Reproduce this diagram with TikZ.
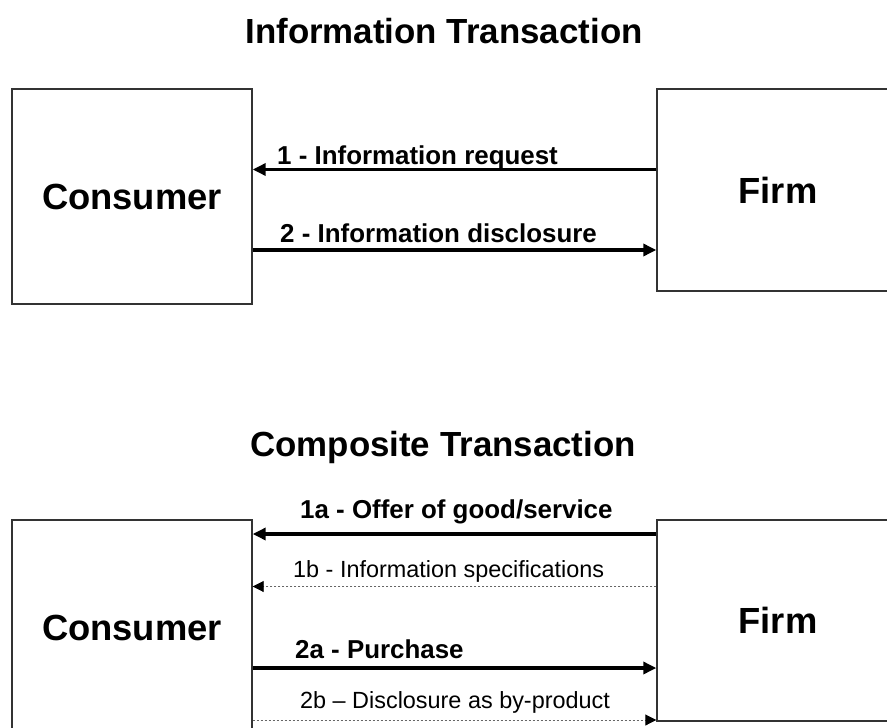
\documentclass[tikz,border=0pt]{standalone}
\usepackage{fontspec}
\setmainfont{Liberation Sans}
\usetikzlibrary{arrows.meta}
\begin{document}
\begin{tikzpicture}[x=1bp,y=-1bp,
  box/.style={draw=black!80,line width=1.4bp,rectangle,inner sep=0pt,
    font=\fontsize{36.5}{40}\selectfont\bfseries},
  ttl/.style={inner sep=0pt,anchor=base,font=\fontsize{35}{40}\selectfont\bfseries},
  blbl/.style={inner sep=0pt,anchor=base west,font=\fontsize{26}{30}\selectfont\bfseries},
  rlbl/.style={inner sep=0pt,anchor=base west,font=\fontsize{23.5}{28}\selectfont},
  sarrow/.style={line width=3.4bp,-{Triangle[length=13bp,width=12bp]}},
  darrow/.style={draw=black!60,line width=0.9bp,dash pattern=on 2.5bp off 1.5bp,
    -{Triangle[length=11bp,width=11bp,fill=black,color=black]}}]
\useasboundingbox (0,0) rectangle (887,728);
% titles
\node[ttl] (t1) at (444,44) {Information Transaction};
\node[ttl] (t2) at (443,456) {Composite Transaction};
% top boxes
\node[box,minimum width=240bp,minimum height=215bp] (c1) at (132,196.5) {Consumer};
\node[box,minimum width=242bp,minimum height=202bp] (f1) at (778,190) {Firm};
% bottom boxes
\node[box,minimum width=240bp,minimum height=216bp] (c2) at (132,628) {Consumer};
\node[box,minimum width=242bp,minimum height=201bp] (f2) at (778,620.5) {Firm};
% top arrows
\draw[sarrow] (f1.west |- 0,169.5) -- (c1.east |- 0,169.5);
\draw[sarrow] (c1.east |- 0,250) -- (f1.west |- 0,250);
\node[blbl] (l1) at (277,165) {1 - Information request};
\node[blbl] (l2) at (280,242) {2 - Information disclosure};
% bottom arrows
\draw[sarrow] (f2.west |- 0,534) -- (c2.east |- 0,534);
\draw[darrow] (f2.west |- 0,586.5) -- (c2.east |- 0,586.5);
\draw[sarrow] (c2.east |- 0,668) -- (f2.west |- 0,668);
\draw[darrow] (c2.east |- 0,720) -- (f2.west |- 0,720);
\node[blbl] (l3) at (300,518) {1a - Offer of good/service};
\node[rlbl] (l4) at (293,577) {1b - Information specifications};
\node[blbl] (l5) at (295,658) {2a - Purchase};
\node[rlbl] (l6) at (300,708) {2b -- Disclosure as by-product};
\end{tikzpicture}
\end{document}
